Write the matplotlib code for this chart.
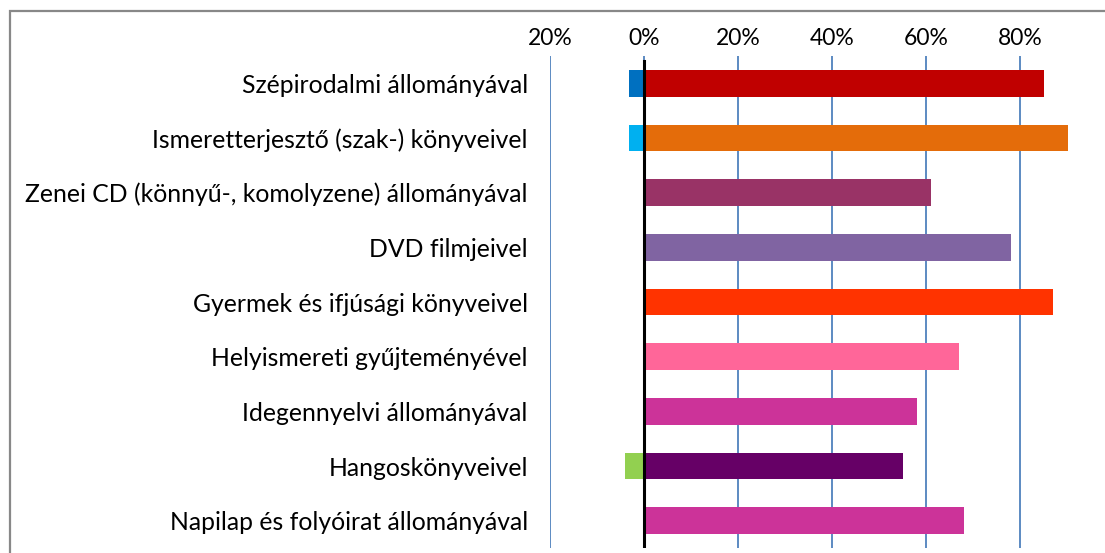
import matplotlib.pyplot as plt
from matplotlib.patches import Rectangle

categories = [
    "Szépirodalmi állományával",
    "Ismeretterjesztő (szak-) könyveivel",
    "Zenei CD (könnyű-, komolyzene) állományával",
    "DVD filmjeivel",
    "Gyermek és ifjúsági könyveivel",
    "Helyismereti gyűjteményével",
    "Idegennyelvi állományával",
    "Hangoskönyveivel",
    "Napilap és folyóirat állományával",
]
positive = [85.1, 90.3, 61.0, 78.0, 87.1, 67.1, 58.1, 55.2, 68.1]
negative = [-3.2, -3.2, 0, 0, 0, 0, 0, -4.0, 0]
pos_colors = ["#C00000", "#E46C0A", "#993366", "#8064A2", "#FF3300",
              "#FF6699", "#CC3399", "#660066", "#CC3399"]
neg_colors = ["#0070C0", "#00B0F0", "#0070C0", "#0070C0", "#0070C0",
              "#0070C0", "#0070C0", "#92D050", "#0070C0"]
ticks = [-20, 0, 20, 40, 60, 80]
tick_labels = ["20%", "0%", "20%", "40%", "60%", "80%"]

plt.rcParams['font.family'] = ['Lato', 'DejaVu Sans']

W, H = 1105, 553
fig = plt.figure(figsize=(W / 100, H / 100), dpi=100)
# outer chart frame (continues past right/bottom edge)
fig.patches.append(Rectangle((10 / W, -0.1), 1.2, (H - 11) / H + 0.1,
                             transform=fig.transFigure, fill=False,
                             edgecolor="#888888", linewidth=1.6))

ax = fig.add_axes([550 / W, (H - 548) / H, (1114 - 550) / W, (548 - 56) / H])
y = list(range(len(categories)))
ax.barh(y, positive, height=0.49, color=pos_colors, zorder=3)
ax.barh(y, negative, height=0.49, color=neg_colors, zorder=3)
ax.axvline(0, color="black", linewidth=2.2, zorder=4, ymax=0.99)

ax.set_xlim(-20, 100)
ax.set_ylim(len(categories) - 0.5, -0.5)
ax.set_xticks(ticks)
ax.set_xticklabels(tick_labels, fontsize=16.5)
ax.xaxis.tick_top()
ax.tick_params(axis='x', length=0, pad=5)
ax.set_yticks(y)
ax.set_yticklabels(categories, fontsize=17.8)
ax.tick_params(axis='y', length=0, pad=16)
ax.grid(axis='x', color="#4F81BD", linewidth=1.3, zorder=0)
for s in ax.spines.values():
    s.set_visible(False)

fig.savefig("out.png", dpi=100)
